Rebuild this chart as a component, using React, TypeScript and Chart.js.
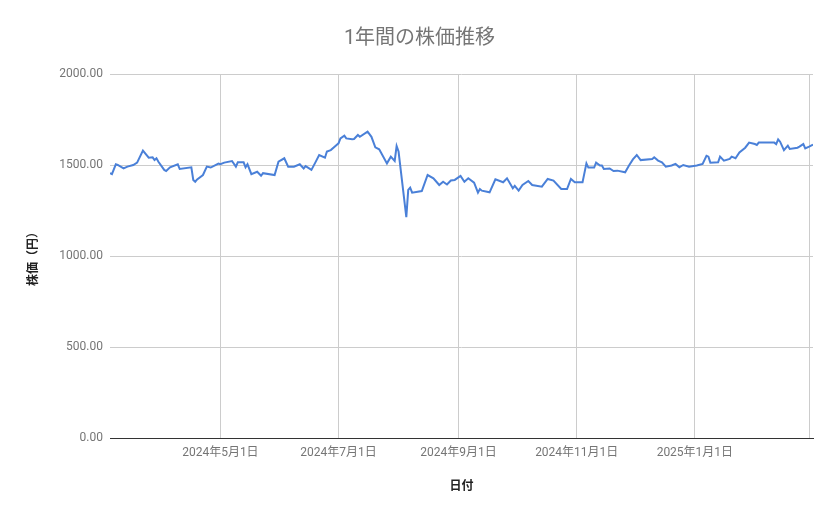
import React, { useEffect, useRef } from 'react';
import { Chart, registerables } from 'chart.js';

Chart.register(...registerables);

// 日付（取引日）
const dates: string[] = [
  '2024-03-05', '2024-03-06', '2024-03-08', '2024-03-09', '2024-03-12', '2024-03-14', '2024-03-17', '2024-03-19',
  '2024-03-22', '2024-03-25', '2024-03-27', '2024-03-28', '2024-03-29', '2024-03-30', '2024-04-02', '2024-04-03',
  '2024-04-05', '2024-04-09', '2024-04-10', '2024-04-16', '2024-04-17', '2024-04-18', '2024-04-19', '2024-04-22',
  '2024-04-24', '2024-04-26', '2024-04-30', '2024-05-01', '2024-05-03', '2024-05-07', '2024-05-09', '2024-05-10',
  '2024-05-13', '2024-05-14', '2024-05-15', '2024-05-17', '2024-05-20', '2024-05-22', '2024-05-23', '2024-05-29',
  '2024-05-31', '2024-06-03', '2024-06-05', '2024-06-08', '2024-06-11', '2024-06-13', '2024-06-14', '2024-06-17',
  '2024-06-19', '2024-06-21', '2024-06-24', '2024-06-25', '2024-06-27', '2024-06-30', '2024-07-01', '2024-07-02',
  '2024-07-04', '2024-07-05', '2024-07-08', '2024-07-09', '2024-07-11', '2024-07-12', '2024-07-16', '2024-07-18',
  '2024-07-20', '2024-07-22', '2024-07-26', '2024-07-28', '2024-07-30', '2024-07-31', '2024-08-01', '2024-08-05',
  '2024-08-06', '2024-08-07', '2024-08-08', '2024-08-13', '2024-08-16', '2024-08-19', '2024-08-22', '2024-08-24',
  '2024-08-26', '2024-08-28', '2024-08-30', '2024-09-02', '2024-09-04', '2024-09-06', '2024-09-09', '2024-09-11',
  '2024-09-12', '2024-09-13', '2024-09-17', '2024-09-20', '2024-09-24', '2024-09-26', '2024-09-29', '2024-09-30',
  '2024-10-02', '2024-10-04', '2024-10-07', '2024-10-09', '2024-10-14', '2024-10-17', '2024-10-20', '2024-10-24',
  '2024-10-27', '2024-10-29', '2024-10-31', '2024-11-04', '2024-11-06', '2024-11-07', '2024-11-10', '2024-11-11',
  '2024-11-13', '2024-11-14', '2024-11-15', '2024-11-18', '2024-11-20', '2024-11-22', '2024-11-26', '2024-11-28',
  '2024-11-30', '2024-12-02', '2024-12-04', '2024-12-10', '2024-12-11', '2024-12-13', '2024-12-15', '2024-12-17',
  '2024-12-20', '2024-12-22', '2024-12-24', '2024-12-26', '2024-12-29', '2025-01-02', '2025-01-05', '2025-01-07',
  '2025-01-08', '2025-01-09', '2025-01-13', '2025-01-14', '2025-01-16', '2025-01-19', '2025-01-20', '2025-01-22',
  '2025-01-24', '2025-01-27', '2025-01-29', '2025-02-01', '2025-02-02', '2025-02-03', '2025-02-11', '2025-02-12',
  '2025-02-13', '2025-02-14', '2025-02-16', '2025-02-18', '2025-02-19', '2025-02-23', '2025-02-24', '2025-02-26',
  '2025-02-27', '2025-03-01', '2025-03-03',
];

// 株価（円）
const prices: number[] = [
  1455, 1450, 1504, 1500, 1481, 1491, 1500, 1513,
  1579, 1540, 1542, 1527, 1537, 1518, 1473, 1467,
  1487, 1504, 1478, 1487, 1418, 1408, 1421, 1445,
  1491, 1486, 1508, 1504, 1513, 1522, 1491, 1515,
  1515, 1487, 1504, 1450, 1463, 1441, 1455, 1445,
  1518, 1537, 1491, 1491, 1504, 1481, 1494, 1473,
  1513, 1555, 1540, 1574, 1582, 1610, 1619, 1646,
  1661, 1646, 1641, 1643, 1665, 1655, 1683, 1655,
  1597, 1586, 1509, 1546, 1522, 1604, 1574, 1213,
  1363, 1375, 1348, 1357, 1445, 1427, 1390, 1408,
  1393, 1415, 1418, 1440, 1408, 1427, 1403, 1348,
  1368, 1359, 1350, 1421, 1405, 1427, 1372, 1385,
  1359, 1390, 1412, 1390, 1381, 1423, 1414, 1368,
  1368, 1423, 1405, 1405, 1509, 1486, 1486, 1513,
  1497, 1497, 1478, 1481, 1467, 1469, 1460, 1497,
  1531, 1555, 1527, 1533, 1542, 1524, 1515, 1491,
  1497, 1506, 1487, 1500, 1491, 1497, 1506, 1551,
  1546, 1513, 1515, 1546, 1524, 1533, 1546, 1537,
  1569, 1595, 1623, 1615, 1610, 1623, 1623, 1615,
  1641, 1628, 1582, 1606, 1588, 1595, 1601, 1615,
  1591, 1601, 1612,
];

// x軸の目盛り（最後の線はラベルなし）
const tickDates: string[] = ['2024-05-01', '2024-07-01', '2024-09-01', '2024-11-01', '2025-01-01', '2025-03-01'];
const tickLabels: string[] = ['2024年5月1日', '2024年7月1日', '2024年9月1日', '2024年11月1日', '2025年1月1日', ''];

const toDay = (s: string): number => {
  const [y, m, d] = s.split('-').map(Number);
  return Date.UTC(y, m - 1, d) / 86400000;
};

const FONT = "Roboto, 'Noto Sans CJK JP', sans-serif";

const App: React.FC = () => {
  const canvasRef = useRef<HTMLCanvasElement>(null);

  useEffect(() => {
    document.body.style.margin = '0';
    if (!canvasRef.current) return;

    const tickDays = tickDates.map(toDay);
    const points = dates.map((d, i) => ({ x: toDay(d), y: prices[i] }));

    const chart = new Chart(canvasRef.current, {
      type: 'line',
      data: {
        datasets: [{
          label: '株価',
          data: points,
          borderColor: '#4a80d8',
          borderWidth: 2,
          pointRadius: 0,
          tension: 0,
          fill: false,
        }],
      },
      options: {
        animation: false,
        responsive: false,
        layout: { padding: 0 },
        plugins: {
          legend: { display: false },
          tooltip: { enabled: false },
          title: {
            display: true,
            text: '1年間の株価推移',
            color: '#757575',
            font: { family: FONT, size: 20, weight: 'normal' },
            padding: { top: 27, bottom: 23 },
          },
        },
        scales: {
          x: {
            type: 'linear',
            min: toDay(dates[0]),
            max: toDay(dates[dates.length - 1]),
            afterBuildTicks: (scale: any) => {
              scale.ticks = tickDays.map((v) => ({ value: v }));
            },
            afterFit: (scale: any) => {
              scale.height = 81;
            },
            ticks: {
              autoSkip: false,
              maxRotation: 0,
              padding: 8,
              color: '#757575',
              font: { family: FONT, size: 12 },
              callback: (value: any) => {
                const i = tickDays.indexOf(Number(value));
                return i >= 0 ? tickLabels[i] : '';
              },
            },
            grid: { color: '#cccccc', drawTicks: false },
            border: { display: true, color: '#333333', width: 1 },
            title: {
              display: true,
              text: '日付',
              color: '#222222',
              font: { family: FONT, size: 12, weight: 'bold' },
              padding: { top: 20, bottom: 25 },
            },
          },
          y: {
            min: 0,
            max: 2000,
            afterFit: (scale: any) => {
              scale.width = 110;
            },
            ticks: {
              stepSize: 500,
              padding: 7,
              color: '#757575',
              font: { family: FONT, size: 12 },
              callback: (value: any) => Number(value).toFixed(2),
            },
            grid: { color: '#cccccc', drawTicks: false },
            border: { display: false },
            title: {
              display: true,
              text: '株価（円）',
              color: '#222222',
              font: { family: FONT, size: 12, weight: 'bold' },
              padding: { top: 27, bottom: 0 },
            },
          },
          // 右側の余白用（表示なし）
          yRight: {
            position: 'right',
            min: 0,
            max: 2000,
            afterFit: (scale: any) => {
              scale.width = 26;
            },
            ticks: { display: false },
            grid: { display: false, drawTicks: false },
            border: { display: false },
          },
        },
      },
    });

    return () => {
      chart.destroy();
    };
  }, []);

  return (
    <div style={{ width: 839, height: 519, background: '#ffffff' }}>
      <canvas ref={canvasRef} width={839} height={519}></canvas>
    </div>
  );
};

export default App;
